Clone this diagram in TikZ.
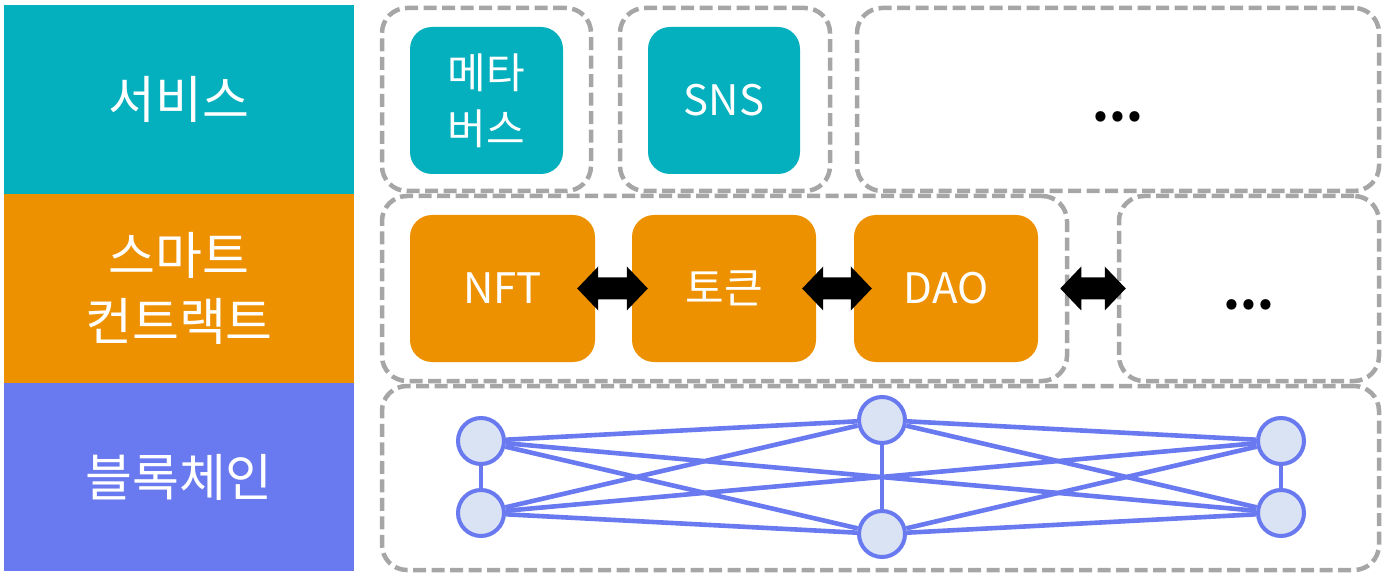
\documentclass[tikz,border=0pt]{standalone}
\usepackage{fontspec}
\setmainfont{Noto Sans CJK KR}
\usetikzlibrary{calc,backgrounds}
\definecolor{cteal}{HTML}{05B0BE}
\definecolor{corange}{HTML}{ED9100}
\definecolor{cblue}{HTML}{6979EF}
\definecolor{cnode}{HTML}{DAE3F3}
\definecolor{cgray}{HTML}{A6A6A6}
\newcommand\dblarr[2]{%
  \fill let \p1=(#1), \p2=(#2) in
    (\x1,\y1) -- (\x1+21pt,\y1+22pt) -- (\x1+21pt,\y1+11pt) -- (\x2-21pt,\y2+11pt)
    -- (\x2-21pt,\y2+22pt) -- (\x2,\y2) -- (\x2-21pt,\y2-22pt) -- (\x2-21pt,\y2-11pt)
    -- (\x1+21pt,\y1-11pt) -- (\x1+21pt,\y1-22pt) -- cycle;}
\begin{document}
\begin{tikzpicture}[x=1pt,y=-1pt,
  band/.style={inner sep=0pt, minimum width=350pt, text=white, align=center,
    font=\fontsize{51}{66}\selectfont},
  frame/.style={draw=cgray, line width=4.5pt, dash pattern=on 13pt off 5.5pt,
    rounded corners=25pt, inner sep=0pt},
  item/.style={inner sep=0pt, rounded corners=22pt, text=white, align=center,
    font=\fontsize{42}{56}\selectfont, minimum height=147pt},
  svc/.style={item, fill=cteal, minimum width=153pt},
  sc/.style={item, fill=corange, minimum width=184pt},
  peer/.style={circle, draw=cblue, fill=cnode, line width=4pt, minimum size=46pt, inner sep=0pt},
  link/.style={draw=cblue, line width=4.6pt},
  vlink/.style={draw=cblue, line width=3.4pt},
  dots/.style={inner sep=0pt, font=\fontsize{48}{48}\selectfont\bfseries}
]
\useasboundingbox (0,0) rectangle (1384,577);
% left column
\node[band, fill=cteal, minimum height=189pt] (lsvc) at (179,99.5) {서비스};
\node[band, fill=corange, minimum height=189pt] (lsc) at (179,288.5) {스마트\\컨트랙트};
\node[band, fill=cblue, minimum height=188pt] (lbc) at (179,477) {블록체인};
% dashed frames
\node[frame, minimum width=209pt, minimum height=183pt] (f1) at (486.5,99.5) {};
\node[frame, minimum width=210pt, minimum height=183pt] (f2) at (725,99.5) {};
\node[frame, minimum width=522pt, minimum height=183pt] (f3) at (1118,99.5) {};
\node[frame, minimum width=685pt, minimum height=185pt] (f4) at (724.5,288.5) {};
\node[frame, minimum width=260pt, minimum height=185pt] (f5) at (1249,288.5) {};
\node[frame, minimum width=997pt, minimum height=184pt] (f6) at (880.5,478) {};
% services
\node[svc] (meta) at (486.5,100.5) {메타\\버스};
\node[svc, minimum width=152pt] (sns) at (724,100.5) {SNS};
\node[dots] (d1) at (1118,117) {...};
% smart contracts
\node[sc, minimum width=185pt] (nft) at (502.5,288.5) {NFT};
\node[sc] (tok) at (724,288.5) {토큰};
\node[sc] (dao) at (946,288.5) {DAO};
\node[dots] (d2) at (1249,305) {...};
\coordinate (a1s) at ($(nft.east)+(-18,0)$);
\coordinate (a1e) at ($(tok.west)+(16,0)$);
\coordinate (a2s) at ($(tok.east)+(-14,0)$);
\coordinate (a2e) at ($(dao.west)+(18,0)$);
\coordinate (a3s) at ($(f4.east)+(-9,0)$);
\coordinate (a3e) at ($(f5.west)+(9,0)$);
\dblarr{a1s}{a1e}
\dblarr{a2s}{a2e}
\dblarr{a3s}{a3e}
% blockchain network
\node[peer] (lt) at (481,441) {};
\node[peer] (lb) at (481,513) {};
\node[peer] (mt) at (882,420) {};
\node[peer] (mb) at (882,534) {};
\node[peer] (rt) at (1281,441) {};
\node[peer] (rb) at (1281,513) {};
\begin{scope}[on background layer]
\draw[link] (lt) -- (mt);
\draw[link] (mt) -- (rt);
\draw[link] (lb) -- (mb);
\draw[link] (mb) -- (rb);
\draw[link] (lt) -- (mb);
\draw[link] (lt) -- (rb);
\draw[link] (lb) -- (mt);
\draw[link] (lb) -- (rt);
\draw[link] (mt) -- (rb);
\draw[link] (mb) -- (rt);
\draw[vlink] (lt) -- (lb);
\draw[vlink] (mt) -- (mb);
\draw[vlink] (rt) -- (rb);
\end{scope}
\end{tikzpicture}
\end{document}
